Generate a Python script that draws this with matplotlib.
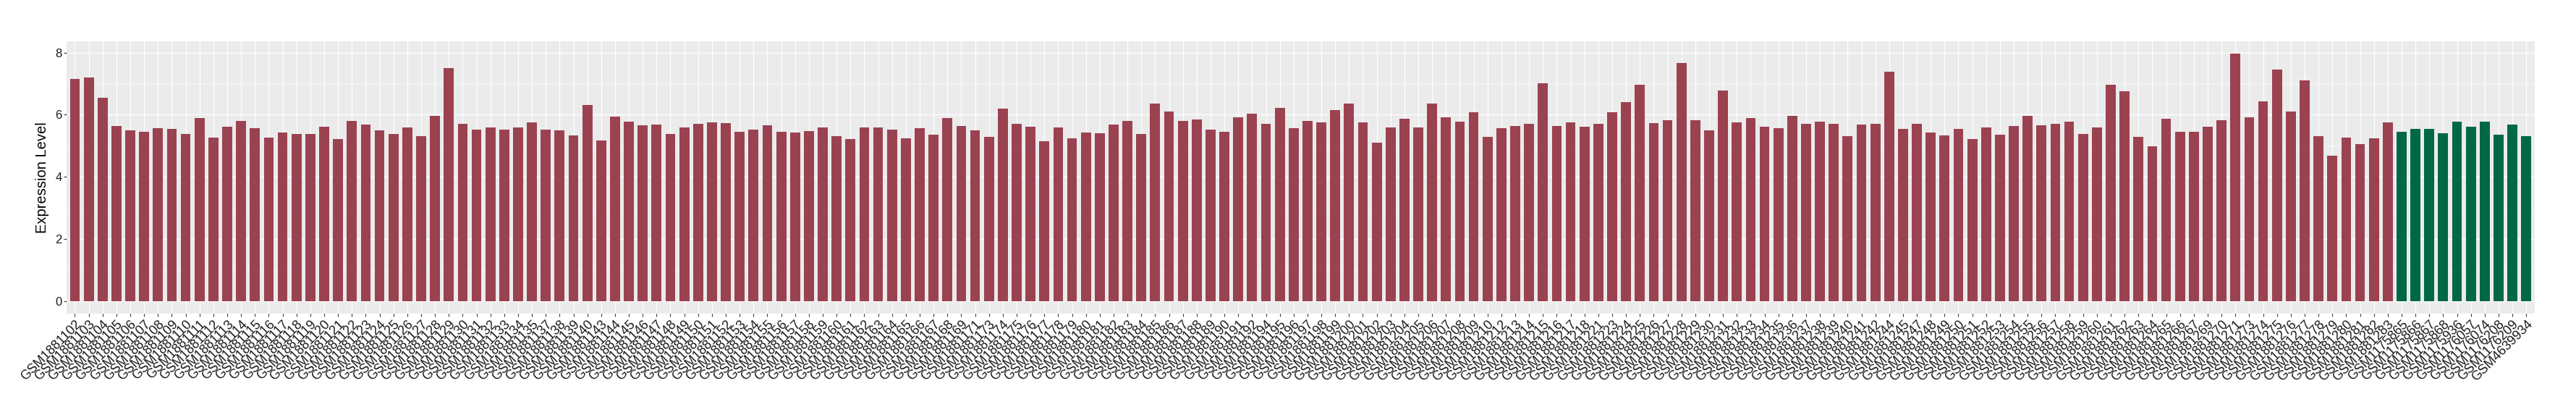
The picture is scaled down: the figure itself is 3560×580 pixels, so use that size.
import numpy as np
import matplotlib
matplotlib.use('Agg')
import matplotlib.pyplot as plt
from matplotlib.ticker import MultipleLocator

plt.rcParams['font.family'] = ['Liberation Sans', 'DejaVu Sans']

# tumour samples (red) and normal samples (green)
tumor_samples = [
    'GSM1881102', 'GSM1881103', 'GSM1881104', 'GSM1881105', 'GSM1881106', 'GSM1881107',
    'GSM1881108', 'GSM1881109', 'GSM1881110', 'GSM1881111', 'GSM1881112', 'GSM1881113',
    'GSM1881114', 'GSM1881115', 'GSM1881116', 'GSM1881117', 'GSM1881118', 'GSM1881119',
    'GSM1881120', 'GSM1881121', 'GSM1881122', 'GSM1881123', 'GSM1881124', 'GSM1881125',
    'GSM1881126', 'GSM1881127', 'GSM1881128', 'GSM1881129', 'GSM1881130', 'GSM1881131',
    'GSM1881132', 'GSM1881133', 'GSM1881134', 'GSM1881135', 'GSM1881137', 'GSM1881138',
    'GSM1881139', 'GSM1881140', 'GSM1881143', 'GSM1881144', 'GSM1881145', 'GSM1881146',
    'GSM1881147', 'GSM1881148', 'GSM1881149', 'GSM1881150', 'GSM1881151', 'GSM1881152',
    'GSM1881153', 'GSM1881154', 'GSM1881155', 'GSM1881156', 'GSM1881157', 'GSM1881158',
    'GSM1881159', 'GSM1881160', 'GSM1881161', 'GSM1881162', 'GSM1881163', 'GSM1881164',
    'GSM1881165', 'GSM1881166', 'GSM1881167', 'GSM1881168', 'GSM1881169', 'GSM1881171',
    'GSM1881173', 'GSM1881174', 'GSM1881175', 'GSM1881176', 'GSM1881177', 'GSM1881178',
    'GSM1881179', 'GSM1881180', 'GSM1881181', 'GSM1881182', 'GSM1881183', 'GSM1881184',
    'GSM1881185', 'GSM1881186', 'GSM1881187', 'GSM1881188', 'GSM1881189', 'GSM1881190',
    'GSM1881191', 'GSM1881192', 'GSM1881194', 'GSM1881195', 'GSM1881196', 'GSM1881197',
    'GSM1881198', 'GSM1881199', 'GSM1881200', 'GSM1881201', 'GSM1881202', 'GSM1881203',
    'GSM1881204', 'GSM1881205', 'GSM1881206', 'GSM1881207', 'GSM1881208', 'GSM1881209',
    'GSM1881210', 'GSM1881212', 'GSM1881213', 'GSM1881214', 'GSM1881215', 'GSM1881216',
    'GSM1881217', 'GSM1881218', 'GSM1881221', 'GSM1881223', 'GSM1881224', 'GSM1881225',
    'GSM1881226', 'GSM1881227', 'GSM1881228', 'GSM1881229', 'GSM1881230', 'GSM1881231',
    'GSM1881232', 'GSM1881233', 'GSM1881234', 'GSM1881235', 'GSM1881236', 'GSM1881237',
    'GSM1881238', 'GSM1881239', 'GSM1881240', 'GSM1881241', 'GSM1881242', 'GSM1881244',
    'GSM1881245', 'GSM1881247', 'GSM1881248', 'GSM1881249', 'GSM1881250', 'GSM1881251',
    'GSM1881252', 'GSM1881253', 'GSM1881254', 'GSM1881255', 'GSM1881256', 'GSM1881257',
    'GSM1881258', 'GSM1881259', 'GSM1881260', 'GSM1881261', 'GSM1881262', 'GSM1881263',
    'GSM1881264', 'GSM1881265', 'GSM1881266', 'GSM1881267', 'GSM1881269', 'GSM1881270',
    'GSM1881271', 'GSM1881273', 'GSM1881274', 'GSM1881275', 'GSM1881276', 'GSM1881277',
    'GSM1881278', 'GSM1881279', 'GSM1881280', 'GSM1881281', 'GSM1881282', 'GSM1881283',
]
tumor_values = [
    7.15, 7.20, 6.55, 5.64, 5.50, 5.45, 5.56, 5.55, 5.38, 5.89, 5.26, 5.62,
    5.81, 5.56, 5.26, 5.43, 5.38, 5.38, 5.62, 5.22, 5.81, 5.68, 5.50, 5.38,
    5.59, 5.31, 5.96, 7.50, 5.71, 5.52, 5.59, 5.52, 5.59, 5.75, 5.52, 5.50,
    5.33, 6.31, 5.18, 5.94, 5.78, 5.66, 5.68, 5.38, 5.59, 5.71, 5.75, 5.73,
    5.45, 5.52, 5.66, 5.45, 5.43, 5.48, 5.59, 5.31, 5.22, 5.59, 5.59, 5.52,
    5.25, 5.56, 5.36, 5.89, 5.64, 5.50, 5.29, 6.19, 5.71, 5.62, 5.15, 5.59,
    5.25, 5.43, 5.41, 5.68, 5.81, 5.38, 6.36, 6.11, 5.81, 5.85, 5.52, 5.45,
    5.92, 6.04, 5.71, 6.22, 5.56, 5.81, 5.75, 6.15, 6.36, 5.75, 5.10, 5.59,
    5.87, 5.59, 6.36, 5.92, 5.78, 6.08, 5.29, 5.56, 5.64, 5.71, 7.01, 5.64,
    5.75, 5.62, 5.71, 6.08, 6.41, 6.97, 5.73, 5.82, 7.67, 5.82, 5.50, 6.78,
    5.75, 5.89, 5.62, 5.56, 5.96, 5.71, 5.78, 5.71, 5.31, 5.68, 5.71, 7.38,
    5.55, 5.71, 5.43, 5.33, 5.55, 5.22, 5.59, 5.36, 5.64, 5.96, 5.66, 5.71,
    5.78, 5.38, 5.59, 6.97, 6.75, 5.29, 4.99, 5.87, 5.45, 5.45, 5.62, 5.82,
    7.97, 5.92, 6.43, 7.45, 6.11, 7.11, 5.31, 4.69, 5.26, 5.06, 5.25, 5.75,
]
normal_samples = [
    'GSM1175865', 'GSM1175866', 'GSM1175867', 'GSM1175868', 'GSM1175936',
    'GSM1176057', 'GSM1176074', 'GSM1176208', 'GSM1176209', 'GSM4639934',
]
normal_values = [5.45, 5.55, 5.55, 5.41, 5.78, 5.62, 5.78, 5.36, 5.68, 5.31]

tumor_color = '#9B4251'
normal_color = '#006846'

samples = tumor_samples + normal_samples
values = np.array(tumor_values + normal_values)
colors = [tumor_color] * len(tumor_samples) + [normal_color] * len(normal_samples)
x = np.arange(1, len(samples) + 1)

fig = plt.figure(figsize=(35.6, 5.8), dpi=100)
ax = fig.add_axes([92 / 3560, 1 - 432.7 / 580, (3502.7 - 92) / 3560, (432.7 - 57) / 580])

ax.set_facecolor('#EBEBEB')
ax.bar(x, values, width=0.72, color=colors, zorder=3)

# ggplot-ish expansion
ax.set_xlim(0.4, len(samples) + 0.6)
ymax = values.max()
ax.set_ylim(-0.05 * ymax, ymax * 1.05)

ax.yaxis.set_major_locator(MultipleLocator(2))
ax.yaxis.set_minor_locator(MultipleLocator(1))
ax.grid(which='major', color='white', linewidth=0.9, zorder=0)
ax.grid(which='minor', axis='y', color='white', linewidth=0.45, zorder=0)
ax.set_axisbelow(True)

ax.set_xticks(x)
ax.set_xticklabels(samples, rotation=45, ha='right', va='top', rotation_mode='anchor',
                   fontsize=13, color='#1a1a1a')
ax.tick_params(axis='y', labelsize=12, labelcolor='#1a1a1a')
ax.tick_params(which='major', length=2.6, width=0.8, color='#333333', pad=2)
ax.tick_params(which='minor', length=0)

for s in ax.spines.values():
    s.set_visible(False)

ax.set_ylabel('Expression Level', fontsize=14.5, labelpad=6)

fig.savefig('out.png', dpi=100)
